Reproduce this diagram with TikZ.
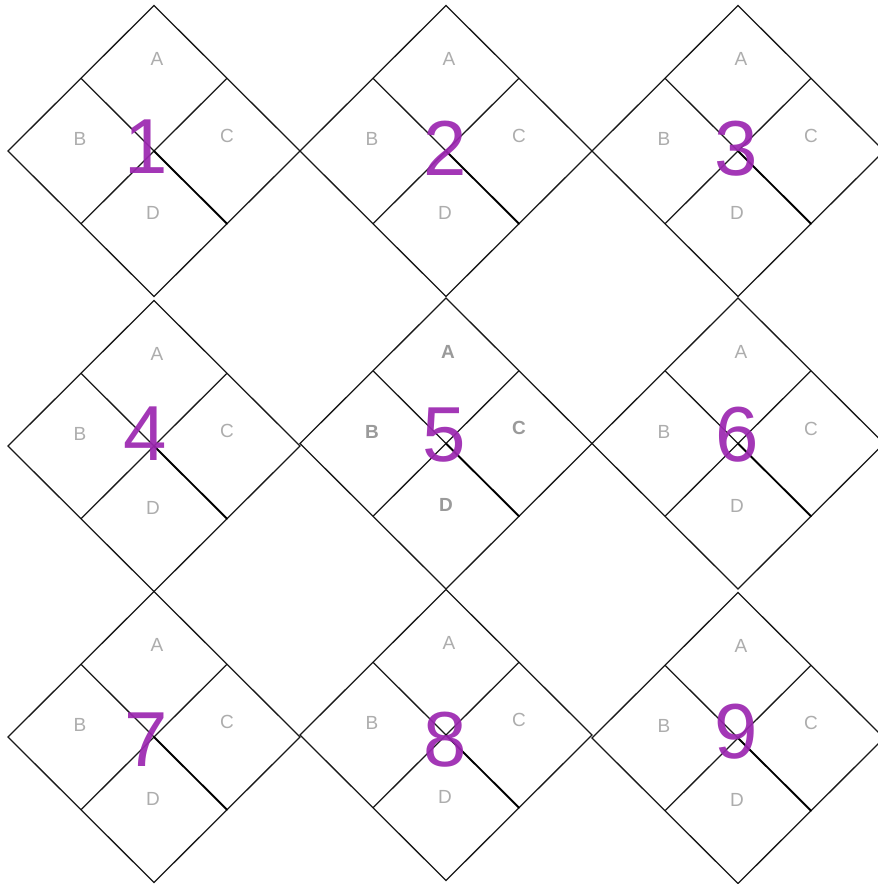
\documentclass[tikz,border=0pt]{standalone}
\usepackage{fontspec}
\setmainfont{Liberation Sans}
\usetikzlibrary{calc}
\definecolor{numpurple}{HTML}{9C27B0}
\definecolor{lblgray}{HTML}{ADADAD}
\definecolor{lblgraydark}{HTML}{9A9A9A}
\tikzset{
  gridline/.style={draw=black!90, line width=1.3pt, line join=miter},
  heavyline/.style={draw=black, line width=1.9pt, line cap=round},
  celllabel/.style={text=lblgray, font=\fontsize{19}{19}\selectfont, inner sep=0pt},
  celllabelbold/.style={text=lblgraydark, font=\fontsize{19}{19}\selectfont\bfseries, inner sep=0pt},
  bignum/.style={text=numpurple, text opacity=0.92, font=\fontsize{78}{78}\selectfont, inner sep=0pt}
}
\begin{document}
\begin{tikzpicture}[x=1pt,y=-1pt]
\useasboundingbox (0,0) rectangle (878,884);
\clip (0,0) rectangle (878,884);
\fill[white] (0,0) rectangle (878,884);
\foreach \n/\cx/\cy/\nx/\ny in {1/154/151/146/147, 2/446/151/445/148, 3/738/151/736/149,
                               4/154/446/145/434, 5/446/443.5/444/435, 6/738/443.5/737/435,
                               7/154/737/146/740, 8/446/735/445/740, 9/738/738/736/732} {
  \coordinate (c\n) at (\cx,\cy);
  \coordinate (t\n) at (\cx,\cy-145.5);
  \coordinate (b\n) at (\cx,\cy+145.5);
  \coordinate (l\n) at (\cx-146,\cy);
  \coordinate (r\n) at (\cx+146,\cy);
  \coordinate (ul\n) at ($(t\n)!0.5!(l\n)$);
  \coordinate (ur\n) at ($(t\n)!0.5!(r\n)$);
  \coordinate (ll\n) at ($(b\n)!0.5!(l\n)$);
  \coordinate (lr\n) at ($(b\n)!0.5!(r\n)$);
  \draw[gridline] (t\n) -- (r\n) -- (b\n) -- (l\n) -- cycle;
  \draw[gridline] (ul\n) -- (c\n);
  \draw[gridline] (ur\n) -- (ll\n);
  \draw[heavyline] (c\n) -- (lr\n);
  \ifnum\n=5
    \node[celllabelbold] (A\n) at (\cx+2,\cy-92) {A};
    \node[celllabelbold] (B\n) at (\cx-74,\cy-11.5) {B};
    \node[celllabelbold] (C\n) at (\cx+73,\cy-16) {C};
    \node[celllabelbold] (D\n) at (\cx,\cy+61) {D};
  \else
    \node[celllabel] (A\n) at (\cx+3,\cy-92) {A};
    \node[celllabel] (B\n) at (\cx-74,\cy-12) {B};
    \node[celllabel] (C\n) at (\cx+73,\cy-15) {C};
    \node[celllabel] (D\n) at (\cx-1,\cy+62) {D};
  \fi
  \node[bignum] (N\n) at (\nx,\ny) {\n};
}
\end{tikzpicture}
\end{document}
